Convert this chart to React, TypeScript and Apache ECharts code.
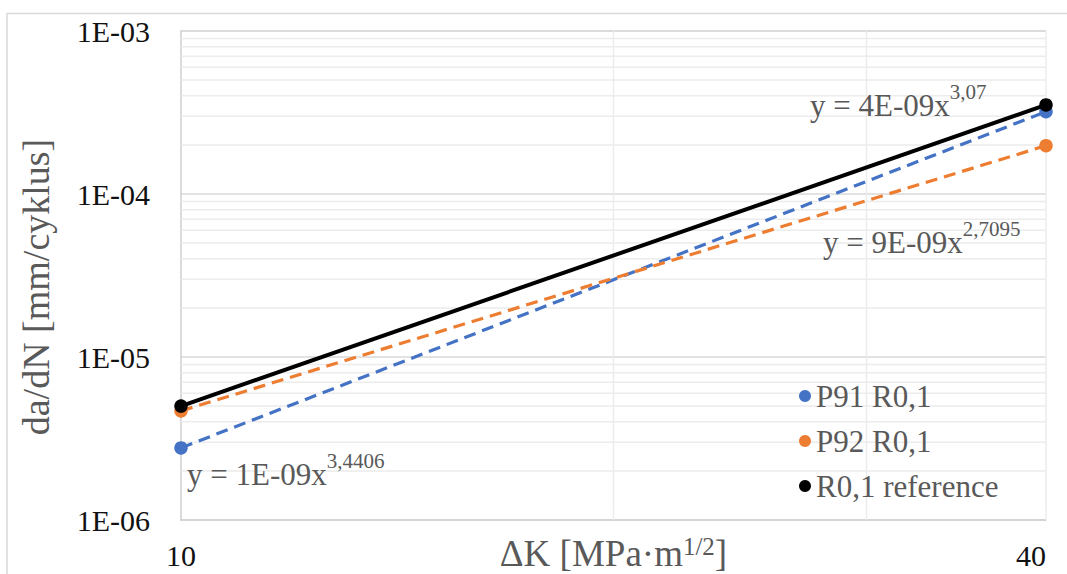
import React, { useEffect, useRef } from "react";
import * as echarts from "echarts";

const FONT = "Liberation Serif, Times New Roman, serif";

// Stress intensity range ΔK [MPa·m^1/2]
const deltaK = [10, 40];
// da/dN [mm/cyklus]
const p91 = [2.77e-6, 3.2e-4];
const p92 = [4.67e-6, 1.98e-4];
const ref = [5.0e-6, 3.52e-4];

const seriesNames = ["P91 R0,1", "P92 R0,1", "R0,1 reference"];
const seriesColors = ["#4472C4", "#ED7D31", "#000000"];

const yDecades = [1e-6, 1e-5, 1e-4];
const minorMultiples = [2, 3, 4, 5, 6, 7, 8, 9];
const xMinorGrid = [20, 30, 40];

const equations = [
  { base: "y = 4E-09x", exp: "3,07", x: 810, y: 101 },
  { base: "y = 9E-09x", exp: "2,7095", x: 823, y: 238 },
  { base: "y = 1E-09x", exp: "3,4406", x: 187, y: 470 },
];

export default function App() {
  const ref1 = useRef<HTMLDivElement>(null);
  useEffect(() => {
    const chart = echarts.init(ref1.current!, null, { renderer: "svg" });
    const gridData: any[] = [];
    yDecades.forEach((d) =>
      minorMultiples.forEach((m) => {
        gridData.push([deltaK[0], m * d], [deltaK[1], m * d], ["-", "-"]);
      })
    );
    xMinorGrid.forEach((x) => {
      gridData.push([x, 1e-6], [x, 1e-3], ["-", "-"]);
    });
    const mk = (vals: number[]) => deltaK.map((x, i) => [x, vals[i]]);
    const data = [p91, p92, ref];
    const option: any = {
      animation: false,
      backgroundColor: "#ffffff",
      grid: {
        left: 181,
        top: 31,
        right: 21,
        bottom: 54,
        containLabel: false,
        outerBoundsMode: "none",
      },
      legend: {
        orient: "vertical",
        left: 794,
        top: 374,
        icon: "circle",
        itemWidth: 12,
        itemHeight: 12,
        itemGap: 11,
        data: seriesNames,
        textStyle: { fontFamily: FONT, fontSize: 31, color: "#595959", lineHeight: 34 },
      },
      xAxis: {
        type: "log",
        logBase: 10,
        min: 10,
        max: 40,
        name: "{a|ΔK [MPa·m}{s|1/2}{a|]}",
        nameLocation: "middle",
        nameGap: 14,
        nameMoveOverlap: false,
        nameTextStyle: {
          fontFamily: FONT,
          rich: {
            a: { fontFamily: FONT, fontSize: 37, color: "#595959", lineHeight: 38, verticalAlign: "bottom" },
            s: { fontFamily: FONT, fontSize: 25, color: "#595959", lineHeight: 25, verticalAlign: "top" },
          },
        },
        axisLine: { show: true, lineStyle: { color: "#cfcfcf", width: 1.5 } },
        axisTick: { show: false },
        splitLine: { show: false },
        axisLabel: {
          fontFamily: FONT,
          fontSize: 30,
          color: "#111111",
          margin: 20,
          alignMaxLabel: "right",
          formatter: (v: number) => String(Math.round(v)),
        },
      },
      yAxis: {
        type: "log",
        logBase: 10,
        min: 1e-6,
        max: 1e-3,
        axisLine: { show: true, lineStyle: { color: "#cfcfcf", width: 1.5 } },
        axisTick: { show: false },
        splitLine: { show: true, lineStyle: { color: "#d9d9d9", width: 1.5 } },
        axisLabel: {
          fontFamily: FONT,
          fontSize: 30,
          color: "#111111",
          margin: 31,
          formatter: (v: number) => {
            const e = Math.round(-Math.log10(v));
            return "1E-" + (e < 10 ? "0" + e : String(e));
          },
        },
      },
      series: [
        {
          name: "__grid",
          type: "line",
          data: gridData,
          silent: true,
          showSymbol: false,
          symbol: "none",
          connectNulls: false,
          lineStyle: { color: "#ececec", width: 1.5 },
          z: 1,
        },
        ...seriesNames.map((name, i) => ({
          name,
          type: "line",
          data: mk(data[i]),
          symbol: "circle",
          symbolSize: 13.5,
          showSymbol: true,
          clip: false,
          z: 3 + i,
          itemStyle: { color: seriesColors[i] },
          lineStyle:
            i < 2
              ? { color: seriesColors[i], width: 3.2, type: [12, 7] }
              : { color: seriesColors[i], width: 4, type: "solid" },
        })),
      ],
      graphic: [
        {
          type: "rect",
          silent: true,
          shape: { x: 7, y: 13.5, width: 1100, height: 620 },
          style: { fill: "none", stroke: "#d9d9d9", lineWidth: 1.5 },
          z: -1,
        },
        {
          type: "text",
          x: 36,
          y: 287,
          rotation: Math.PI / 2,
          style: {
            text: "da/dN [mm/cyklus]",
            fontFamily: FONT,
            fontSize: 38,
            fill: "#595959",
            align: "center",
            verticalAlign: "middle",
          },
        },
        ...equations.map((e) => ({
          type: "text",
          x: e.x,
          y: e.y,
          z: 10,
          style: {
            text: `{b|${e.base}}{s|${e.exp}}`,
            align: "left",
            verticalAlign: "middle",
            fontFamily: FONT,
            rich: {
              b: { fontFamily: FONT, fontSize: 31, fill: "#595959", lineHeight: 40, verticalAlign: "bottom" },
              s: { fontFamily: FONT, fontSize: 21, fill: "#595959", lineHeight: 26, verticalAlign: "top" },
            },
          },
        })),
      ],
    };
    chart.setOption(option);
    return () => chart.dispose();
  }, []);
  return (
    <div
      ref={ref1}
      style={{ position: "fixed", left: 0, top: 0, width: 1067, height: 574 }}
    />
  );
}
